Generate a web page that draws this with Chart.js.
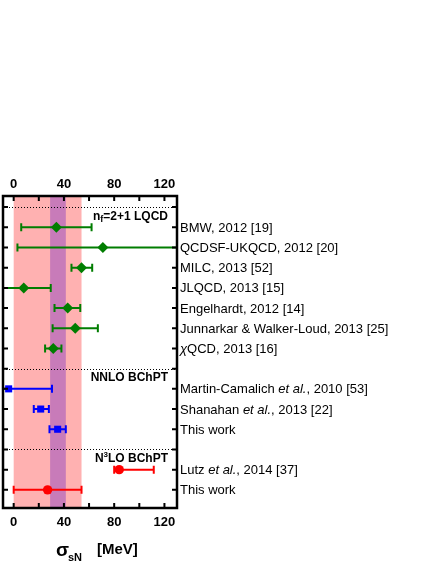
<!DOCTYPE html>
<html>
<head>
<meta charset="utf-8">
<script src="https://cdn.jsdelivr.net/npm/chart.js@4.4.1/dist/chart.umd.min.js"></script>
<style>
html,body{margin:0;padding:0;background:#fff;}
#wrap{width:436px;height:564px;position:relative;}
</style>
</head>
<body>
<div id="wrap"><canvas id="c" width="436" height="564"></canvas></div>
<script>
// ---- data ----
const xTicks = [0, 20, 40, 60, 80, 100, 120];
const xTickLabels = [0, 40, 80, 120];
const rowTicks = [0,1,2,3,4,5,6,7,8,9,10,11,12,13,14];
const separatorRows = [0, 8, 12];

const lqcdRows = [1, 2, 3, 4, 5, 6, 7];
const lqcdX  = [34, 71, 54, 8, 43, 49, 31.5];
const lqcdLo = [6, 3, 46, -22, 32.5, 31, 25];
const lqcdHi = [62, 140, 62.5, 29.5, 53, 67, 38];

const nnloRows = [9, 10, 11];
const nnloX  = [-4, 21.5, 35];
const nnloLo = [-38, 16, 28.5];
const nnloHi = [30.5, 28, 41.5];

const n3loRows = [13, 14];
const n3loX  = [84, 27];
const n3loLo = [80, 0];
const n3loHi = [111.5, 54];

const n3loBand = [0, 54];
const nnloBand = [29, 41.5];

// label rows with text segments [text, italic]
const rowLabels = [
  {row:1, parts:[["BMW, 2012 [19]",0]]},
  {row:2, parts:[["QCDSF-UKQCD, 2012 [20]",0]]},
  {row:3, parts:[["MILC, 2013 [52]",0]]},
  {row:4, parts:[["JLQCD, 2013 [15]",0]]},
  {row:5, parts:[["Engelhardt, 2012 [14]",0]]},
  {row:6, parts:[["Junnarkar & Walker-Loud, 2013 [25]",0]]},
  {row:7, parts:[["\u03C7",1],["QCD, 2013 [16]",0]]},
  {row:9, parts:[["Martin-Camalich ",0],["et al.",1],[", 2010 [53]",0]]},
  {row:10, parts:[["Shanahan ",0],["et al.",1],[", 2013 [22]",0]]},
  {row:11, parts:[["This work",0]]},
  {row:13, parts:[["Lutz ",0],["et al.",1],[", 2014 [37]",0]]},
  {row:14, parts:[["This work",0]]}
];

const FONT = '"Liberation Sans", Arial, Helvetica, sans-serif';
const green = '#007d00', blue = '#0000ff', red = '#ff0000';

function pts(xs, rows){ return xs.map((x,i)=>({x:x, y:rows[i]})); }

const errSets = [
  {rows:lqcdRows, lo:lqcdLo, hi:lqcdHi, color:green},
  {rows:nnloRows, lo:nnloLo, hi:nnloHi, color:blue},
  {rows:n3loRows, lo:n3loLo, hi:n3loHi, color:red}
];

const plugin = {
  id:'custom',
  beforeDatasetsDraw(chart){
    const ctx = chart.ctx, a = chart.chartArea;
    const xs = chart.scales.x, ys = chart.scales.y;
    ctx.save();
    ctx.beginPath(); ctx.rect(a.left, a.top, a.right-a.left, a.bottom-a.top); ctx.clip();
    // bands
    ctx.fillStyle = '#ffb1b1';
    let p0 = xs.getPixelForValue(n3loBand[0]), p1 = xs.getPixelForValue(n3loBand[1]);
    ctx.fillRect(p0, a.top, p1-p0, a.bottom-a.top);
    ctx.fillStyle = '#c87bb9';
    p0 = xs.getPixelForValue(nnloBand[0]); p1 = xs.getPixelForValue(nnloBand[1]);
    ctx.fillRect(p0, a.top, p1-p0, a.bottom-a.top);
    // separators
    ctx.strokeStyle = '#000'; ctx.lineWidth = 1; ctx.setLineDash([1,2]);
    separatorRows.forEach(r=>{
      const y = Math.round(ys.getPixelForValue(r))+0.5;
      ctx.beginPath(); ctx.moveTo(a.left, y); ctx.lineTo(a.right, y); ctx.stroke();
    });
    ctx.setLineDash([]);
    // error bars
    ctx.lineWidth = 2;
    errSets.forEach(s=>{
      ctx.strokeStyle = s.color;
      s.rows.forEach((r,i)=>{
        const y = ys.getPixelForValue(r);
        const xl = xs.getPixelForValue(s.lo[i]), xh = xs.getPixelForValue(s.hi[i]);
        ctx.beginPath(); ctx.moveTo(xl, y); ctx.lineTo(xh, y);
        ctx.moveTo(xl, y-4); ctx.lineTo(xl, y+4);
        ctx.moveTo(xh, y-4); ctx.lineTo(xh, y+4);
        ctx.stroke();
      });
    });
    ctx.restore();
  },
  afterDatasetsDraw(chart){
    const ctx = chart.ctx, a = chart.chartArea;
    const xs = chart.scales.x, ys = chart.scales.y;
    ctx.save();
    // frame
    ctx.strokeStyle = '#000'; ctx.lineWidth = 2.5;
    ctx.strokeRect(a.left, a.top, a.right-a.left, a.bottom-a.top);
    // x ticks (inward, top & bottom)
    ctx.lineWidth = 2;
    xTicks.forEach(v=>{
      const x = xs.getPixelForValue(v);
      ctx.beginPath();
      ctx.moveTo(x, a.top); ctx.lineTo(x, a.top+5);
      ctx.moveTo(x, a.bottom); ctx.lineTo(x, a.bottom-5);
      ctx.stroke();
    });
    // row ticks (inward, left & right)
    rowTicks.forEach(r=>{
      const y = ys.getPixelForValue(r);
      ctx.beginPath();
      ctx.moveTo(a.left, y); ctx.lineTo(a.left+5, y);
      ctx.moveTo(a.right, y); ctx.lineTo(a.right-5, y);
      ctx.stroke();
    });
    // tick labels
    ctx.fillStyle = '#000';
    ctx.font = 'bold 13px ' + FONT;
    ctx.textAlign = 'center'; ctx.textBaseline = 'middle';
    xTickLabels.forEach(v=>{
      const x = xs.getPixelForValue(v);
      ctx.fillText(String(v), x, a.top-12);
      ctx.fillText(String(v), x, a.bottom+14);
    });
    // right labels
    ctx.textAlign = 'left';
    rowLabels.forEach(l=>{
      let x = a.right + 3;
      const y = ys.getPixelForValue(l.row) + 1;
      l.parts.forEach(([t,it])=>{
        ctx.font = (it?'italic ':'') + '13px ' + FONT;
        ctx.fillText(t, x, y);
        x += ctx.measureText(t).width;
      });
    });
    // section labels (right aligned)
    function drawSection(parts, rightX, y){
      let w = 0;
      parts.forEach(p=>{ ctx.font = 'bold '+p[1]+'px '+FONT; w += ctx.measureText(p[0]).width; });
      let x = rightX - w;
      parts.forEach(p=>{
        ctx.font = 'bold '+p[1]+'px '+FONT;
        ctx.fillText(p[0], x, y + p[2]);
        x += ctx.measureText(p[0]).width;
      });
    }
    ctx.textBaseline = 'middle';
    const rx = a.right - 9;
    drawSection([["n",12,0],["f",9,3],["=2+1 LQCD",12,0]], rx, ys.getPixelForValue(0.45));
    drawSection([["NNLO BChPT",12,0]], rx, ys.getPixelForValue(8.47));
    drawSection([["N",12,0],["3",8,-4],["LO BChPT",12,0]], rx, ys.getPixelForValue(12.45));
    // axis title
    ctx.textAlign = 'left'; ctx.textBaseline = 'alphabetic';
    ctx.font = 'bold 19px ' + FONT;
    ctx.fillText('\u03C3', 56, 556);
    ctx.font = 'bold 11px ' + FONT;
    ctx.fillText('sN', 68, 561);
    ctx.font = 'bold 15px ' + FONT;
    ctx.fillText('[MeV]', 97, 554);
    ctx.restore();
  }
};

new Chart(document.getElementById('c'), {
  type:'scatter',
  data:{
    datasets:[
      {data:pts(lqcdX, lqcdRows), pointStyle:'rectRot', pointRadius:5.5, backgroundColor:green, borderColor:green, borderWidth:0},
      {data:pts(nnloX, nnloRows), pointStyle:'rect', pointRadius:5, backgroundColor:blue, borderColor:blue, borderWidth:0},
      {data:pts(n3loX, n3loRows), pointStyle:'circle', pointRadius:4.7, backgroundColor:red, borderColor:red, borderWidth:0}
    ]
  },
  options:{
    responsive:false, animation:false, events:[],
    layout:{autoPadding:false, padding:{left:3, right:259, top:196, bottom:56}},
    plugins:{legend:{display:false}, tooltip:{enabled:false}},
    scales:{
      x:{type:'linear', min:-8.5, max:130, display:false},
      y:{type:'linear', min:-0.55, max:14.9, reverse:true, display:false}
    }
  },
  plugins:[plugin]
});
</script>
</body>
</html>
